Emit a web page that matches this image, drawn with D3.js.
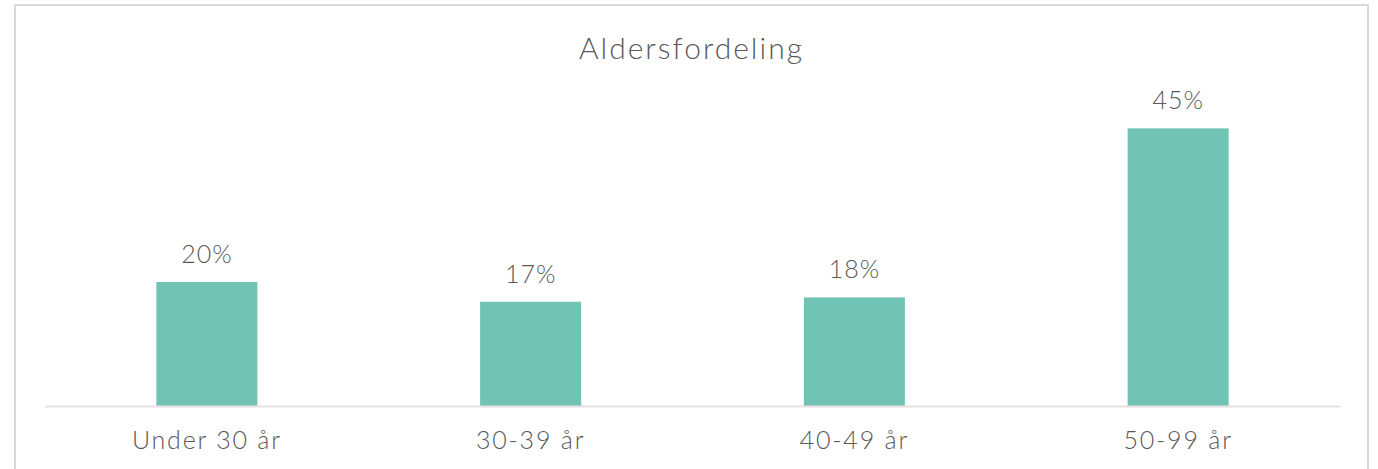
<!DOCTYPE html>
<html>
<head>
<meta charset="utf-8">
<script src="https://cdn.jsdelivr.net/npm/d3@7"></script>
<style>
  html, body { margin: 0; padding: 0; background: #fff; }
  svg { display: block; font-family: Lato, 'Noto Sans', sans-serif; font-weight: 300; }
</style>
</head>
<body>
<div id="chart"></div>
<script>
// ----------------------------------------------------------------------------
// Data
// ----------------------------------------------------------------------------

const title      = 'Aldersfordeling'
const categories = ['Under 30 år', '30-39 år', '40-49 år', '50-99 år']
const shares     = [20.1, 16.9, 17.6, 45.0]

// ----------------------------------------------------------------------------
// Layout
// ----------------------------------------------------------------------------

const width  = 1378
const height = 469
const plot   = { left: 45, right: 1340, top: 97.5, bottom: 406 }

const colors = {
  bar   : '#71c3b3',
  text  : '#595959',
  axis  : '#e7dfe2',
  frame : '#d9d9d9'
}

const svg = d3.select('#chart')
  .append('svg')
  .attr('width', width)
  .attr('height', height)

// Chart frame
svg.append('rect')
  .attr('x', 15)
  .attr('y', 5)
  .attr('width', 1353)
  .attr('height', 480)
  .attr('fill', 'white')
  .attr('stroke', colors.frame)
  .attr('stroke-width', 2)

// Title
svg.append('text')
  .attr('x', (15 + 1368) / 2)
  .attr('y', 59)
  .attr('text-anchor', 'middle')
  .style('font-size', '30px')
  .style('letter-spacing', '2px')
  .style('fill', colors.text)
  .text(title)

// Scales
const x = d3.scaleBand()
  .domain(categories)
  .range([plot.left, plot.right])
  .paddingInner(0.688)
  .paddingOuter(0.344)

const y = d3.scaleLinear()
  .domain([0, 50])
  .range([plot.bottom, plot.top])

// Bars
svg.append('g')
  .selectAll('rect')
  .data(shares)
  .join('rect')
    .attr('x', (d, i) => x(categories[i]))
    .attr('y', d => y(d))
    .attr('width', x.bandwidth())
    .attr('height', d => y(0) - y(d))
    .attr('fill', colors.bar)

// Data labels (rounded to whole percent)
svg.append('g')
  .selectAll('text')
  .data(shares)
  .join('text')
    .attr('x', (d, i) => x(categories[i]) + x.bandwidth() / 2)
    .attr('y', d => y(d) - 19)
    .attr('text-anchor', 'middle')
    .style('font-size', '25px')
    .style('letter-spacing', '1px')
    .style('fill', colors.text)
    .text(d => d3.format('.0f')(d) + '%')

// Category axis
const axis = svg.append('g')
  .attr('transform', 'translate(0,' + plot.bottom + ')')
  .call(d3.axisBottom(x).tickSize(0).tickPadding(0))

axis.select('.domain')
  .attr('stroke', colors.axis)
  .attr('stroke-width', 2)

axis.selectAll('text')
  .attr('y', 43)
  .attr('dy', null)
  .style('font-family', 'Lato, "Noto Sans", sans-serif')
  .style('font-weight', 300)
  .style('font-size', '25px')
  .style('letter-spacing', '1.8px')
  .style('fill', colors.text)
</script>
</body>
</html>
